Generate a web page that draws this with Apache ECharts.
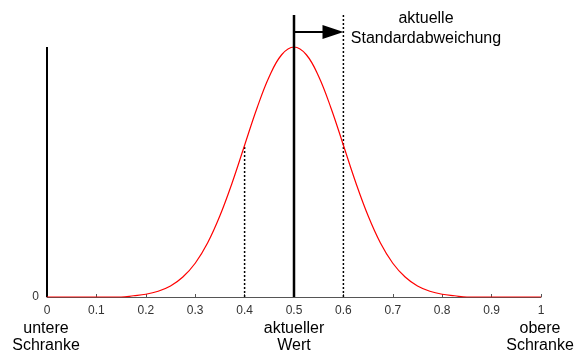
<!DOCTYPE html>
<html><head><meta charset="utf-8">
<script src="https://cdn.jsdelivr.net/npm/echarts@6/dist/echarts.min.js"></script>
<style>html,body{margin:0;padding:0;background:#fff}#c{width:574px;height:354px}</style>
</head><body><div id="c"></div>
<script>
// curve (value relative to peak height)
const curveX = [0, 0.1, 0.15, 0.175, 0.2, 0.225, 0.25, 0.275, 0.3, 0.325, 0.35, 0.375, 0.4, 0.425, 0.45, 0.475, 0.5, 0.525, 0.55, 0.575, 0.6, 0.625, 0.65, 0.675, 0.7, 0.725, 0.75, 0.775, 0.8, 0.825, 0.85, 0.9, 1];
const curveY = [0, 0, 0, 0.005, 0.011, 0.023, 0.044, 0.08, 0.135, 0.216, 0.325, 0.458, 0.607, 0.755, 0.882, 0.969, 1.0, 0.969, 0.882, 0.755, 0.607, 0.458, 0.325, 0.216, 0.135, 0.08, 0.044, 0.023, 0.011, 0.005, 0, 0, 0];
const xTicks = ['0','0.1','0.2','0.3','0.4','0.5','0.6','0.7','0.8','0.9','1'];
const currentValue = 0.5;
const currentSigma = 0.1;
const topValue = 1.128;
const arrowLevel = 1.06;

const chart = echarts.init(document.getElementById('c'), null, {renderer: 'canvas'});
const FONT = 'Liberation Sans, Arial, sans-serif';
chart.setOption({
  animation: false,
  grid: {left: 47, right: 33, top: 15, bottom: 57},
  xAxis: {
    type: 'value', min: 0, max: 1, interval: 0.1,
    axisLine: {show: true, lineStyle: {color: '#555', width: 1}},
    axisTick: {show: true, inside: true, length: 3, lineStyle: {color: '#555'}},
    axisLabel: {margin: 8, color: '#333', fontSize: 12, fontFamily: FONT,
      formatter: v => xTicks[Math.round(v * 10)]},
    splitLine: {show: false}
  },
  yAxis: {
    type: 'value', min: 0, max: topValue, interval: 1,
    axisLine: {show: false}, axisTick: {show: false},
    axisLabel: {margin: 8, color: '#333', fontSize: 12, fontFamily: FONT,
      formatter: v => v === 0 ? '0' : ''},
    splitLine: {show: false}
  },
  series: [
    {type: 'line', data: [[0, 0], [0, 1]], symbol: 'none',
      lineStyle: {color: '#000', width: 2}, silent: true},
    {type: 'line', data: curveX.map((x, i) => [x, curveY[i]]), symbol: 'none', smooth: 0.4,
      lineStyle: {color: '#ff0000', width: 1.2}, z: 5},
    {type: 'line', data: [[currentValue - currentSigma, 0], [currentValue - currentSigma, 0.607]], symbol: 'none',
      lineStyle: {color: '#000', width: 1.5, type: [2, 2]}},
    {type: 'line', data: [[currentValue + currentSigma, 0], [currentValue + currentSigma, topValue]], symbol: 'none',
      lineStyle: {color: '#000', width: 1.5, type: [2, 2]}},
    {type: 'line', data: [[currentValue, 0], [currentValue, topValue]], symbol: 'none',
      lineStyle: {color: '#000', width: 2.5}, z: 6,
      markLine: {silent: true, symbol: ['none', 'triangle'], symbolSize: [14, 21],
        lineStyle: {color: '#000', width: 2, type: 'solid'}, label: {show: false},
        data: [[{coord: [currentValue, arrowLevel]}, {coord: [currentValue + currentSigma - 0.021, arrowLevel]}]]}}
  ],
  graphic: [
    {type: 'text', x: 426, y: 9, style: {text: 'aktuelle\nStandardabweichung', font: '16px ' + FONT, fill: '#000', align: 'center', lineHeight: 20}},
    {type: 'text', x: 46, y: 320, style: {text: 'untere\nSchranke', font: '16px ' + FONT, fill: '#000', align: 'center', lineHeight: 17}},
    {type: 'text', x: 294, y: 320, style: {text: 'aktueller\nWert', font: '16px ' + FONT, fill: '#000', align: 'center', lineHeight: 17}},
    {type: 'text', x: 540, y: 320, style: {text: 'obere\nSchranke', font: '16px ' + FONT, fill: '#000', align: 'center', lineHeight: 17}}
  ]
});
</script></body></html>
